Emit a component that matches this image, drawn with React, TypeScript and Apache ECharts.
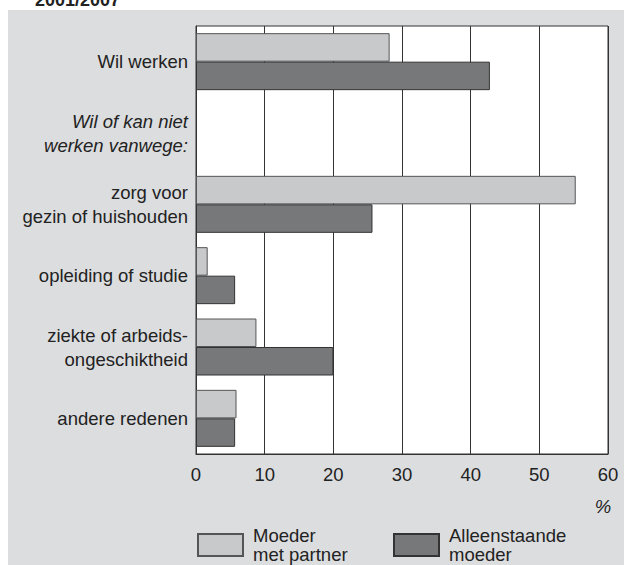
import React, { useEffect, useRef } from "react";
import * as echarts from "echarts";

const categories = [
  "Wil werken",
  "Wil of kan niet\nwerken vanwege:",
  "zorg voor\ngezin of huishouden",
  "opleiding of studie",
  "ziekte of arbeids-\nongeschiktheid",
  "andere redenen",
];
const italicCategory = "Wil of kan niet\nwerken vanwege:";
const seriesNames = ["Moeder\nmet partner", "Alleenstaande\nmoeder"];
const moederMetPartner = [28.2, null, 55.3, 1.7, 8.8, 5.9];
const alleenstaandeMoeder = [42.8, null, 25.7, 5.7, 20.0, 5.7];
const xTicks = { min: 0, max: 60, interval: 10 };
const title = "2001/2007";
const unit = "%";

const FONT = "'Liberation Sans', Arial, Helvetica, sans-serif";
const FS = 18.5;

export default function App() {
  const ref = useRef<HTMLDivElement>(null);
  useEffect(() => {
    if (!ref.current) return;
    const chart = echarts.init(ref.current, null, { renderer: "svg" });
    const legendCommon = {
      top: 523,
      padding: 0,
      itemWidth: 45,
      itemHeight: 22,
      itemGap: 10,
      icon: "rect",
      selectedMode: false,
      textStyle: {
        fontSize: FS,
        color: "#222",
        lineHeight: 19,
        fontFamily: FONT,
        padding: [0, 0, 6, 5],
      },
    };
    chart.setOption({
      animation: false,
      textStyle: { fontFamily: FONT },
      graphic: [
        {
          type: "rect",
          z: -10,
          shape: { x: 8, y: 10, width: 616, height: 555 },
          style: { fill: "#dcdddf" },
          silent: true,
        },
        {
          type: "text",
          x: 35,
          y: 9,
          style: {
            text: title,
            font: `bold 18px ${FONT}`,
            fill: "#222",
            verticalAlign: "bottom",
          },
        },
        {
          type: "text",
          x: 603,
          y: 506,
          style: {
            text: unit,
            font: `italic ${FS}px ${FONT}`,
            fill: "#222",
            align: "center",
            verticalAlign: "middle",
          },
        },
      ],
      grid: {
        left: 196,
        right: 16,
        top: 26,
        bottom: 111,
        show: true,
        backgroundColor: "#ffffff",
        borderColor: "#333",
        borderWidth: 1,
        containLabel: false,
      },
      legend: [
        { ...legendCommon, data: [seriesNames[0]], left: 197 },
        { ...legendCommon, data: [seriesNames[1]], left: 393 },
      ],
      xAxis: {
        type: "value",
        min: xTicks.min,
        max: xTicks.max,
        interval: xTicks.interval,
        axisLine: { show: true, lineStyle: { color: "#333", width: 1 } },
        axisTick: { show: false },
        splitLine: { show: true, lineStyle: { color: "#333", width: 1 } },
        axisLabel: { fontSize: FS, color: "#222", margin: 11, fontFamily: FONT },
      },
      yAxis: {
        type: "category",
        inverse: true,
        data: categories,
        axisLine: { show: true, lineStyle: { color: "#333", width: 1 } },
        axisTick: { show: false },
        splitLine: { show: false },
        axisLabel: {
          fontSize: FS,
          color: "#222",
          margin: 8,
          lineHeight: 24,
          fontFamily: FONT,
          align: "right",
          formatter: (v: string) =>
            v === italicCategory
              ? v
                  .split("\n")
                  .map((l) => `{i|${l}}`)
                  .join("\n")
              : v,
          rich: {
            i: { fontStyle: "italic", fontSize: FS, color: "#222", lineHeight: 24, fontFamily: FONT },
          },
        },
      },
      series: [
        {
          name: seriesNames[0],
          type: "bar",
          data: moederMetPartner,
          barWidth: 28.5,
          barGap: "0%",
          itemStyle: { color: "#c8c9cb", borderColor: "#555", borderWidth: 1 },
        },
        {
          name: seriesNames[1],
          type: "bar",
          data: alleenstaandeMoeder,
          barWidth: 28.5,
          barGap: "0%",
          itemStyle: { color: "#77787a", borderColor: "#333", borderWidth: 1 },
        },
      ],
    });
    return () => chart.dispose();
  }, []);
  return (
    <div
      ref={ref}
      style={{ position: "fixed", left: 0, top: 0, width: 624, height: 565, background: "#fff" }}
    />
  );
}
